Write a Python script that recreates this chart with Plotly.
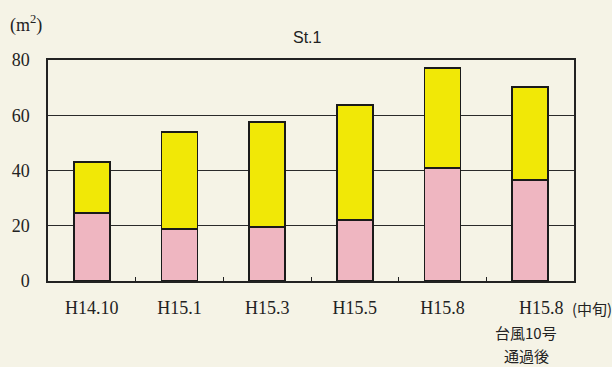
import plotly.graph_objects as go

categories = ["H14.10", "H15.1", "H15.3", "H15.5", "H15.8", "H15.8 (中旬)"]
tick_labels = ["H14.10", "H15.1", "H15.3", "H15.5", "H15.8", ""]
last_label_lines = ["H15.8 (中旬)", "台風10号", "通過後"]
pink_values = [24.6, 18.8, 19.6, 22.0, 40.8, 36.6]
yellow_values = [18.5, 35.2, 38.0, 41.8, 36.4, 33.6]

bg = "#f5f3e6"
fig = go.Figure()
fig.add_trace(go.Bar(x=categories, y=pink_values, marker=dict(color="#efb6c1", line=dict(color="#1a1a1a", width=1.8)), width=0.41))
fig.add_trace(go.Bar(x=categories, y=yellow_values, marker=dict(color="#f1e806", line=dict(color="#1a1a1a", width=1.8)), width=0.41))

fig.update_layout(
    width=612, height=367, barmode="stack", showlegend=False,
    paper_bgcolor=bg, plot_bgcolor=bg,
    margin=dict(l=48, r=38, t=60, b=86),
    font=dict(family="Liberation Serif", size=18, color="#222"),
)
fig.update_yaxes(range=[0, 80], dtick=20, showline=True, mirror=True, linecolor="#222", linewidth=1.5,
                 gridcolor="#2a2a2a", gridwidth=1.2, zeroline=False, ticks="", ticklabelstandoff=13,
                 tickfont=dict(size=18))
fig.update_xaxes(tickvals=categories, ticktext=tick_labels, showline=True, mirror=True, linecolor="#222", linewidth=1.5,
                 tickson="boundaries", ticks="inside", ticklen=4, tickcolor="#222", ticklabelstandoff=10,
                 range=[-0.5, 5.5])

fig.add_annotation(text="(m<sup>2</sup>)", xref="paper", yref="paper", x=(8-48)/526, y=(281-24)/221,
                   xanchor="left", yanchor="middle", showarrow=False, font=dict(size=18))
fig.add_annotation(text="St.1", xref="paper", yref="paper", x=(307-48)/526, y=(281-38)/221,
                   xanchor="center", yanchor="middle", showarrow=False, font=dict(size=16, family="Liberation Sans"))
fig.add_annotation(text=last_label_lines[0].split(" ")[0], xref="paper", yref="paper", x=(541-48)/526, y=(281-308)/221,
                   xanchor="center", yanchor="middle", showarrow=False, font=dict(size=18))
fig.add_annotation(text="(" + last_label_lines[0].split("(")[1], xref="paper", yref="paper", x=(570-48)/526, y=(281-308)/221,
                   xanchor="left", yanchor="middle", showarrow=False, font=dict(size=15, family="Noto Sans CJK JP"))
fig.add_annotation(text=last_label_lines[1], xref="paper", yref="paper", x=(526-48)/526, y=(281-332)/221,
                   xanchor="center", yanchor="middle", showarrow=False, font=dict(size=15, family="Noto Sans CJK JP"))
fig.add_annotation(text=last_label_lines[2], xref="paper", yref="paper", x=(526-48)/526, y=(281-355)/221,
                   xanchor="center", yanchor="middle", showarrow=False, font=dict(size=15, family="Noto Sans CJK JP"))

fig.write_html("out.html", config={"displayModeBar": False},
               post_script="document.body.style.margin='0';document.body.style.background='%s';" % bg)
